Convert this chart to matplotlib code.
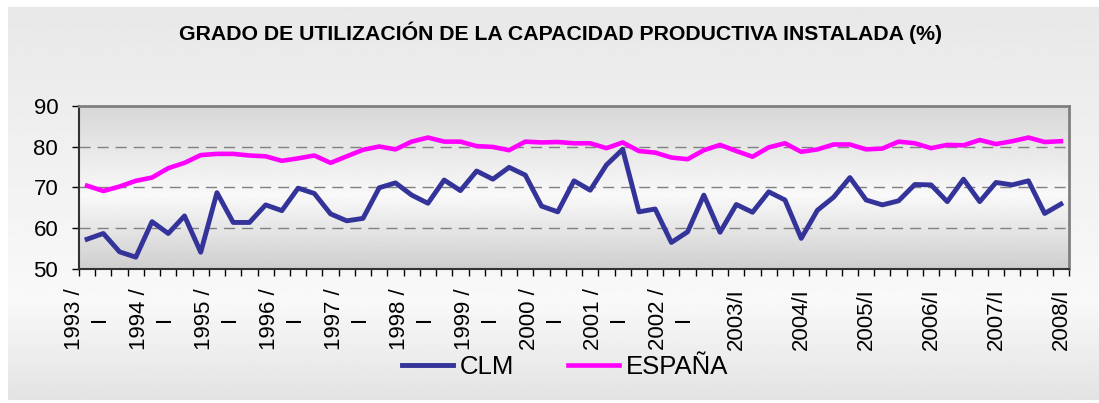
import matplotlib.pyplot as plt
import numpy as np

plt.rcParams['font.family'] = ['Liberation Sans', 'DejaVu Sans']

# trimestres 1993/I ... 2008/I
years = list(range(1993, 2009))
year_labels = [f"{y} /\nI" if y <= 2002 else f"{y}/I" for y in years]

clm = [57.3, 58.7, 54.2, 52.9, 61.6, 58.7, 63.0, 54.1, 68.7, 61.4, 61.4, 65.7,
       64.3, 69.8, 68.5, 63.5, 61.8, 62.4, 69.9, 71.1, 68.1, 66.1, 71.8, 69.2,
       74.0, 72.0, 74.9, 73.0, 65.4, 64.0, 71.6, 69.3, 75.5, 79.3, 64.0, 64.7,
       56.5, 59.1, 68.1, 59.0, 65.8, 63.9, 68.9, 66.9, 57.5, 64.4, 67.6, 72.4,
       66.9, 65.7, 66.7, 70.7, 70.6, 66.5, 72.0, 66.5, 71.2, 70.6, 71.6, 63.6,
       65.9]
espana = [70.4, 69.1, 70.2, 71.6, 72.4, 74.7, 76.0, 77.9, 78.2, 78.2, 77.8, 77.6,
          76.5, 77.1, 77.8, 76.0, 77.6, 79.2, 80.0, 79.3, 81.2, 82.2, 81.2, 81.2,
          80.1, 79.9, 79.1, 81.2, 81.0, 81.1, 80.8, 80.8, 79.6, 81.0, 78.9, 78.5,
          77.3, 76.9, 79.1, 80.4, 78.9, 77.5, 79.8, 80.8, 78.7, 79.3, 80.5, 80.5,
          79.3, 79.5, 81.2, 80.8, 79.6, 80.4, 80.3, 81.6, 80.6, 81.3, 82.2, 81.1,
          81.3]

W, H = 1099, 403
fig = plt.figure(figsize=(W / 100, H / 100), dpi=100)
fig.patch.set_facecolor('white')

# fondo degradado del grafico
bg = fig.add_axes([8 / W, 3 / H, 1 - 8 / W, 1 - 10 / H])
t = np.linspace(0, 1, 200)
g = np.interp(t, [0, 0.75, 1], [0.91, 0.975, 0.89])
bg.imshow(g[:, None], cmap='gray', vmin=0, vmax=1, aspect='auto',
          extent=[0, 1, 0, 1], interpolation='bilinear')
bg.set_axis_off()

ax = fig.add_axes([79 / W, 1 - 269 / H, 990 / W, 163.3 / H])
n = len(clm)
x = np.arange(n)
ax.set_xlim(-0.5, n - 0.5)
ax.set_ylim(50, 90)

gp = np.interp(t, [0, 0.55, 1], [0.84, 0.975, 0.81])
ax.imshow(gp[:, None], cmap='gray', vmin=0, vmax=1, aspect='auto',
          extent=[-0.5, n - 0.5, 50, 90], interpolation='bilinear', zorder=0)

ax.set_yticks([50, 60, 70, 80, 90])
ax.yaxis.grid(True, linestyle=(0, (8, 5)), color='#808080', lw=1)
ax.set_axisbelow(True)

ax.plot(x, clm, color='#333399', lw=3.5, label='CLM', zorder=3)
ax.plot(x, espana, color='#FF00FF', lw=3.3, label='ESPAÑA', zorder=3)

ax.set_xticks(np.arange(-0.5, n, 1))
ax.set_xticklabels([])
ax.tick_params(axis='x', which='major', direction='out', length=5, width=1)
ax.set_xticks(x[::4], year_labels, minor=True)
ax.tick_params(axis='x', which='minor', length=0, pad=14, labelsize=16,
               labelrotation=90)
for lab in ax.get_xticklabels(minor=True):
    lab.set_multialignment('center')
    lab.set_linespacing(1.25)
ax.tick_params(axis='y', direction='out', length=5, width=1, labelsize=16, pad=10)

for s in ['left', 'bottom']:
    ax.spines[s].set_color('#333333')
    ax.spines[s].set_linewidth(1.5)
for s in ['top', 'right']:
    ax.spines[s].set_color('#808080')
    ax.spines[s].set_linewidth(2)

fig.text(0.5096, 1 - 33 / H, 'GRADO DE UTILIZACIÓN DE LA CAPACIDAD PRODUCTIVA INSTALADA (%)',
         ha='center', va='center', fontsize=15.3, weight='bold')

fig.legend(loc='center', bbox_to_anchor=(0.514, 1 - 367 / H), ncol=2, frameon=False,
           fontsize=18.5, handlelength=2.0, handletextpad=0.25, columnspacing=2.1,
           borderpad=0, borderaxespad=0)

plt.savefig('out.png', dpi=100)
plt.close()
